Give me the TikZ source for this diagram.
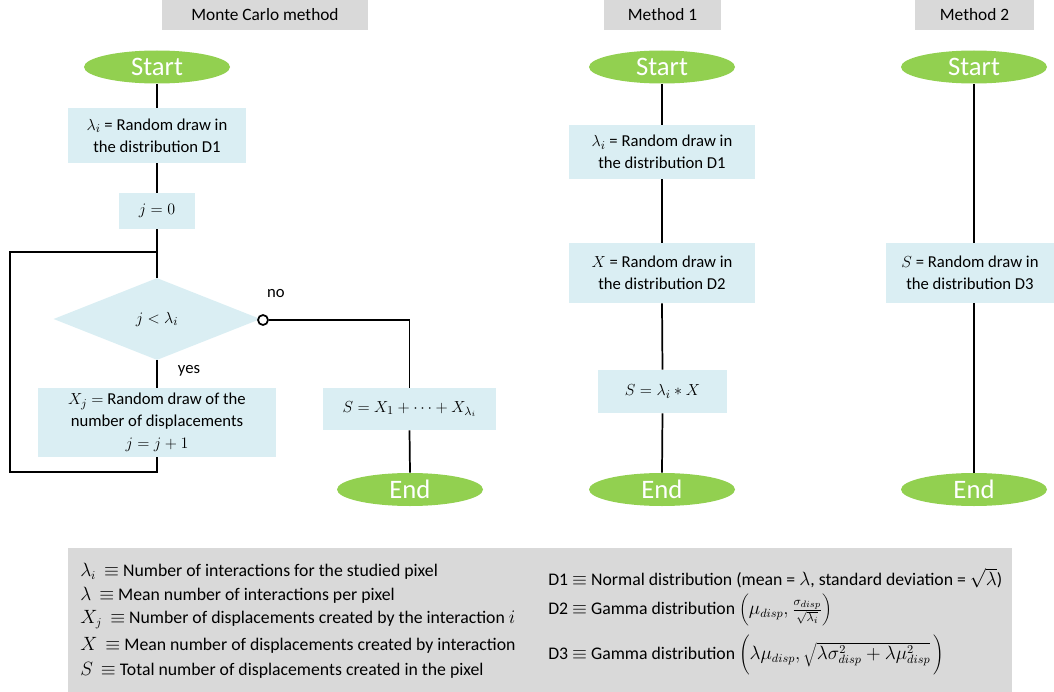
\documentclass[tikz,border=0pt]{standalone}
\usepackage{fontspec}
\setmainfont{Carlito}
\usetikzlibrary{shapes.geometric}
\definecolor{hdrgray}{HTML}{D9D9D9}
\definecolor{termgreen}{HTML}{92D050}
\definecolor{procblue}{HTML}{DAEEF3}
\begin{document}
\begin{tikzpicture}[x=0.75pt,y=-0.75pt,
  hdr/.style={fill=hdrgray, inner sep=0pt, font=\fontsize{13}{15}\selectfont},
  term/.style={ellipse, fill=termgreen, text=white, minimum width=109.5pt, minimum height=24.75pt, inner sep=0pt, font=\fontsize{20}{22}\selectfont},
  proc/.style={fill=procblue, inner sep=0pt, align=center, font=\fontsize{12.5}{16.5}\selectfont},
  dec/.style={diamond, fill=procblue, inner sep=0pt, minimum width=155.25pt, minimum height=61.5pt, font=\fontsize{12.5}{16}\selectfont},
  conn/.style={line width=1.3pt, black},
  lbl/.style={font=\fontsize{12.5}{14}\selectfont, inner sep=0pt},
  leg/.style={font=\fontsize{13.3}{15}\selectfont, anchor=west, inner sep=0pt}
]
\useasboundingbox (0,0) rectangle (1054,692);
% headers
\node[hdr, minimum width=154.5pt, minimum height=22.5pt] (h0) at (265,15) {Monte Carlo method};
\node[hdr, minimum width=87.75pt, minimum height=22.5pt] (h1) at (662.5,15) {Method 1};
\node[hdr, minimum width=89.25pt, minimum height=22.5pt] (h2) at (974.5,15) {Method 2};
% Monte Carlo
\node[term] (s0) at (157,67) {Start};
\node[proc, minimum width=133.5pt, minimum height=41.25pt] (a1) at (157,135.5) {$\lambda_i$ = Random draw in\\the distribution D1};
\node[proc, minimum width=57pt, minimum height=27pt] (a2) at (157,211) {$j=0$};
\coordinate (jn) at (157,252);
\node[dec] (d) at (157,319) {$j<\lambda_i$};
\node[proc, minimum width=178.5pt, minimum height=51.75pt] (a3) at (157,422.5) {$X_j$ $=$ Random draw of the\\number of displacements\\$j=j+1$};
\node[proc, minimum width=129.75pt, minimum height=31.5pt] (a4) at (409.5,409) {$S = X_1+\cdots+X_{\lambda_i}$};
\node[term] (e0) at (410,489.5) {End};
\node[circle, draw, line width=1.3pt, fill=white, minimum size=7.5pt, inner sep=0pt] (c) at (263,320) {};
\coordinate (lb) at (10,472);
\coordinate (lt) at (10,252);
\coordinate (xb) at (157,472);
\node[lbl] (no) at (276,294) {no};
\node[lbl] (yes) at (189,371) {yes};
\draw[conn] (s0.south) -- (a1.north);
\draw[conn] (a1.south) -- (a2.north);
\draw[conn] (a2.south) -- (jn) -- (d.north);
\draw[conn] (d.south) -- (a3.north);
\draw[conn] (a3.south) -- (xb) -- (lb) -- (lt) -- (jn);
\draw[conn] (c.east) -| (a4.north);
\draw[conn] (a4.south) -- (e0.north);
% Method 1
\node[term] (s1) at (662,67) {Start};
\node[proc, minimum width=139.5pt, minimum height=40.5pt] (b1) at (662,152) {$\lambda_i$ = Random draw in\\the distribution D1};
\node[proc, minimum width=139.5pt, minimum height=45pt] (b2) at (662,273) {$X$ = Random draw in\\the distribution D2};
\node[proc, minimum width=96.75pt, minimum height=32.25pt] (b3) at (662.5,391.5) {$S=\lambda_i * X$};
\node[term] (e1) at (662,489.5) {End};
\draw[conn] (s1.south) -- (b1.north);
\draw[conn] (b1.south) -- (b2.north);
\draw[conn] (b2.south) -- (b3.north);
\draw[conn] (b3.south) -- (e1.north);
% Method 2
\node[term] (s2) at (974,67) {Start};
\node[proc, minimum width=126pt, minimum height=45pt] (m2) at (970,273) {$S$ = Random draw in\\the distribution D3};
\node[term] (e2) at (974,489.5) {End};
\draw[conn] (s2.south) -- (s2.south |- m2.north);
\draw[conn] (s2.south |- m2.south) -- (e2.north);
% legend
\path[fill=hdrgray] (68,548) rectangle (1012,692);
\node[leg] (l1) at (80,571) {$\lambda_i$\ \ $\equiv$ Number of interactions for the studied pixel};
\node[leg] (l2) at (80,595) {$\lambda$\ \ $\equiv$ Mean number of interactions per pixel};
\node[leg] (l3) at (80,620) {$X_j$\ \ $\equiv$ Number of displacements created by the interaction $i$};
\node[leg] (l4) at (80,645) {$X$\ \ $\equiv$ Mean number of displacements created by interaction};
\node[leg] (l5) at (80,670) {$S$\ \ $\equiv$ Total number of displacements created in the pixel};
\node[leg] (r1) at (548,578) {D1 $\equiv$ Normal distribution (mean = $\lambda$, standard deviation = $\sqrt{\lambda}$)};
\node[leg] (r2) at (548,610) {D2 $\equiv$ Gamma distribution $\biggl(\mu_{disp}, \frac{\sigma_{disp}}{\sqrt{\lambda_i}}\biggr)$};
\node[leg] (r3) at (548,655) {D3 $\equiv$ Gamma distribution $\Biggl(\lambda\mu_{disp}, \sqrt{\lambda\sigma^2_{disp}+\lambda\mu^2_{disp}}\,\Biggr)$};
\end{tikzpicture}
\end{document}
